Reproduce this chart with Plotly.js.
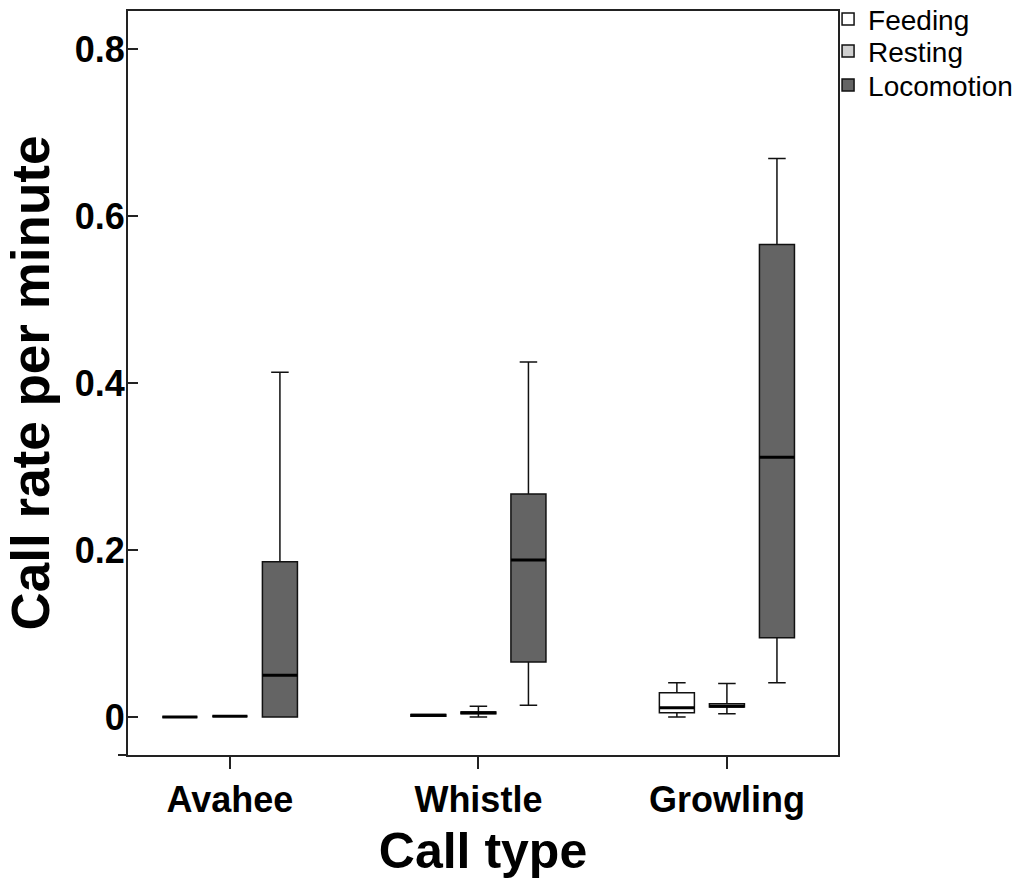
<!DOCTYPE html>
<html>
<head>
<meta charset="utf-8">
<script src="https://cdn.plot.ly/plotly-3.0.1.min.js"></script>
<style>html,body{margin:0;padding:0;background:#fff;}#chart{width:1024px;height:891px;}</style>
</head>
<body>
<div id="chart"></div>
<script>
const categories = ['Avahee', 'Whistle', 'Growling'];
const seriesNames = ['Feeding', 'Resting', 'Locomotion'];
const seriesColors = ['#ffffff', '#d0d0d0', '#646464'];

const feedingLower  = [0, 0.001, 0.000];
const feedingQ1     = [0, 0.001, 0.005];
const feedingMedian = [0, 0.002, 0.011];
const feedingQ3     = [0, 0.003, 0.029];
const feedingUpper  = [0, 0.003, 0.041];

const restingLower  = [0.001, 0.000, 0.004];
const restingQ1     = [0.001, 0.004, 0.012];
const restingMedian = [0.001, 0.005, 0.013];
const restingQ3     = [0.001, 0.006, 0.016];
const restingUpper  = [0.001, 0.013, 0.040];

const locoLower  = [0.000, 0.014, 0.041];
const locoQ1     = [0.000, 0.066, 0.095];
const locoMedian = [0.050, 0.188, 0.311];
const locoQ3     = [0.186, 0.267, 0.566];
const locoUpper  = [0.413, 0.425, 0.669];

const yTickVals = [0, 0.2, 0.4, 0.6, 0.8];
const yTickText = ['0', '0.2', '0.4', '0.6', '0.8'];

const stats = [
  [feedingLower, feedingQ1, feedingMedian, feedingQ3, feedingUpper],
  [restingLower, restingQ1, restingMedian, restingQ3, restingUpper],
  [locoLower, locoQ1, locoMedian, locoQ3, locoUpper]
];
const legendIds = ['legend', 'legend2', 'legend3'];
const legendY = [0.989, 0.946, 0.900];

const traces = [];
stats.forEach((s, i) => {
  traces.push({
    type: 'box', name: seriesNames[i], x: categories,
    lowerfence: s[0], q1: s[1], median: s[2], q3: s[3], upperfence: s[4],
    fillcolor: seriesColors[i], line: {color: '#111', width: 1.5},
    whiskerwidth: 0.5, offsetgroup: 'g' + i, boxpoints: false, hoverinfo: 'skip',
    legend: legendIds[i]
  });
});
stats.forEach((s, i) => {
  traces.push({
    type: 'box', name: seriesNames[i] + ' median', x: categories,
    lowerfence: s[2], q1: s[2], median: s[2], q3: s[2], upperfence: s[2],
    fillcolor: 'rgba(0,0,0,0)', line: {color: '#000', width: 3},
    whiskerwidth: 0, offsetgroup: 'g' + i, boxpoints: false, showlegend: false, hoverinfo: 'skip'
  });
});

const layout = {
  width: 1024, height: 891,
  margin: {l: 128, r: 186, t: 11, b: 136, autoexpand: false},
  paper_bgcolor: '#fff', plot_bgcolor: '#fff',
  boxmode: 'group', boxgap: 0.396, boxgroupgap: 0.3,
  font: {family: 'Liberation Sans, Arial, sans-serif', color: '#000'},
  showlegend: true,
  xaxis: {
    type: 'category', range: [-0.41, 2.447],
    showline: true, linecolor: '#222', linewidth: 2, mirror: true,
    ticks: 'outside', ticklen: 12, tickwidth: 2, tickcolor: '#222',
    tickfont: {size: 36, family: 'Liberation Sans, Arial, sans-serif', weight: 'bold'},
    showgrid: false, zeroline: false,
    title: {text: '<b>Call type</b>', font: {size: 50}, standoff: 14}
  },
  yaxis: {
    range: [-0.0455, 0.8455],
    tickvals: yTickVals, ticktext: yTickText,
    showline: true, linecolor: '#222', linewidth: 2, mirror: true,
    ticks: 'inside', ticklen: 10, tickwidth: 1.5, tickcolor: '#222',
    tickfont: {size: 36, family: 'Liberation Sans, Arial, sans-serif', weight: 'bold'},
    ticklabelstandoff: -6,
    showgrid: false, zeroline: false,
    title: {text: '<b>Call rate per minute</b>', font: {size: 53}, standoff: 8}
  },
  shapes: [
    {type: 'line', xref: 'paper', yref: 'paper', x0: -0.0141, x1: 0, y0: 0, y1: 0,
     line: {color: '#222', width: 2}}
  ]
};
legendIds.forEach((id, i) => {
  layout[id] = {x: 0.986, xanchor: 'left', y: legendY[i], yanchor: 'middle',
                font: {size: 28, color: '#000'}, bgcolor: 'rgba(0,0,0,0)'};
});

Plotly.newPlot('chart', traces, layout, {displayModeBar: false, staticPlot: true});
</script>
</body>
</html>
